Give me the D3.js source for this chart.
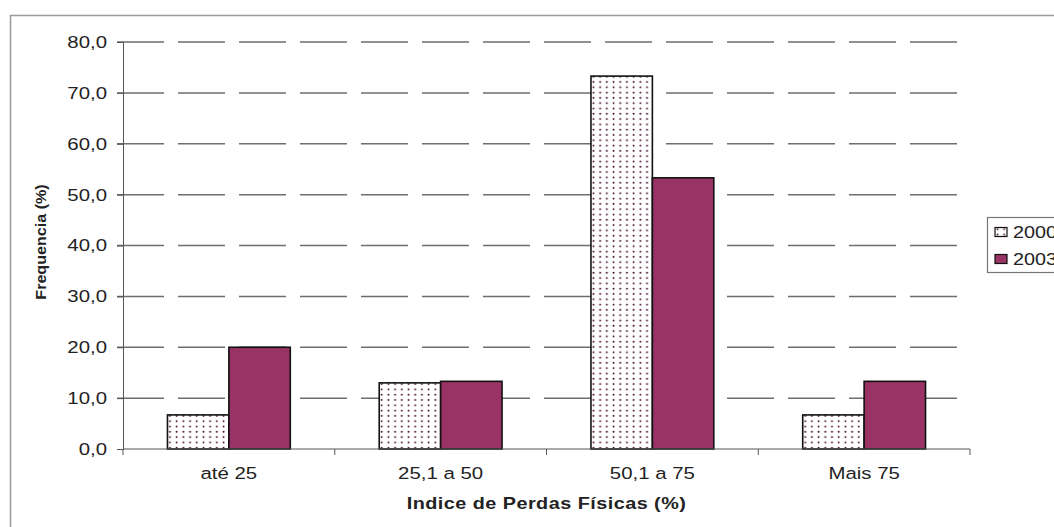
<!DOCTYPE html>
<html>
<head>
<meta charset="utf-8">
<script src="https://cdn.jsdelivr.net/npm/d3@7"></script>
<style>
  body { margin: 0; background: #fff; }
  text { font-family: Arial, "Liberation Sans", sans-serif; fill: #222; }
</style>
</head>
<body>
<div id="chart"></div>
<script>
var categories = ["até 25", "25,1 a 50", "50,1 a 75", "Mais 75"];
var seriesNames = ["2000", "2003"];
var values2000 = [6.7, 13.0, 73.3, 6.7];
var values2003 = [20.0, 13.3, 53.3, 13.3];
var yTicks = [0, 10, 20, 30, 40, 50, 60, 70, 80];

var width = 1054,
    height = 527;

var plot = {left: 123, right: 970, top: 42, bottom: 449};
var stretch = 1.2; // the original picture is a bit wider than tall

var svg = d3.select("#chart").append("svg")
    .attr("width", width)
    .attr("height", height);

// dotted pattern for the 2000 series
var defs = svg.append("defs");
var pat = defs.append("pattern")
    .attr("id", "dots")
    .attr("patternUnits", "userSpaceOnUse")
    .attr("width", 6.7)
    .attr("height", 5.3);
pat.append("rect").attr("width", 6.7).attr("height", 5.3).attr("fill", "#fff");
pat.append("circle").attr("cx", 2.5).attr("cy", 2.5).attr("r", 1).attr("fill", "#4a1030");

// outer chart border
svg.append("rect")
    .attr("x", 10.5).attr("y", 15.5)
    .attr("width", 1100).attr("height", 600)
    .attr("fill", "none")
    .attr("stroke", "#9a9a9a")
    .attr("stroke-width", 1.5);

var x0 = d3.scaleBand()
    .domain(categories)
    .range([plot.left, plot.right])
    .paddingInner(0.42)
    .paddingOuter(0.21);

var x1 = d3.scaleBand()
    .domain(seriesNames)
    .range([0, x0.bandwidth()]);

var y = d3.scaleLinear()
    .domain([0, 80])
    .range([plot.bottom, plot.top]);

// gridlines
svg.append("g")
    .selectAll("line")
    .data(yTicks.filter(function (d) { return d > 0; }))
    .enter().append("line")
    .attr("x1", plot.left - 6)
    .attr("x2", plot.right)
    .attr("y1", function (d) { return y(d); })
    .attr("y2", function (d) { return y(d); })
    .attr("stroke", "#6e6e6e")
    .attr("stroke-width", 1.5)
    .attr("stroke-dasharray", "47,14");

// y axis
var yAxis = d3.axisLeft(y)
    .tickValues(yTicks)
    .tickSize(6)
    .tickFormat(function (d) { return d3.format(".1f")(d).replace(".", ","); });

var gy = svg.append("g")
    .attr("transform", "translate(" + plot.left + ",0)")
    .call(yAxis);
gy.select(".domain").attr("stroke", "#555");
gy.selectAll(".tick line").attr("stroke", "#555");
gy.selectAll(".tick text")
    .attr("x", -16 / stretch)
    .attr("transform", "scale(" + stretch + ",1)")
    .style("font-size", "17px")
    .style("font-family", "Arial, 'Liberation Sans', sans-serif")
    .attr("fill", "#222");

// bars
var rows = categories.map(function (c, i) {
    return {cat: c, vals: [values2000[i], values2003[i]]};
});

var groups = svg.append("g")
    .selectAll("g")
    .data(rows)
    .enter().append("g")
    .attr("transform", function (d) { return "translate(" + x0(d.cat) + ",0)"; });

groups.selectAll("rect")
    .data(function (d) {
        return d.vals.map(function (v, j) { return {name: seriesNames[j], v: v}; });
    })
    .enter().append("rect")
    .attr("x", function (d) { return x1(d.name); })
    .attr("y", function (d) { return y(d.v); })
    .attr("width", x1.bandwidth())
    .attr("height", function (d) { return y(0) - y(d.v); })
    .attr("fill", function (d) { return d.name === "2000" ? "url(#dots)" : "#993366"; })
    .attr("stroke", "#111")
    .attr("stroke-width", 1.6);

// x axis with ticks on category boundaries
var bounds = d3.scaleLinear().domain([0, categories.length]).range([plot.left, plot.right]);
var gx = svg.append("g");
gx.append("line")
    .attr("x1", plot.left).attr("x2", plot.right)
    .attr("y1", plot.bottom).attr("y2", plot.bottom)
    .attr("stroke", "#555");
gx.selectAll(".btick")
    .data(d3.range(categories.length + 1))
    .enter().append("line")
    .attr("x1", function (d) { return bounds(d); })
    .attr("x2", function (d) { return bounds(d); })
    .attr("y1", plot.bottom)
    .attr("y2", plot.bottom + 6)
    .attr("stroke", "#555");
gx.selectAll(".clab")
    .data(categories)
    .enter().append("text")
    .attr("transform", function (d) {
        return "translate(" + (x0(d) + x0.bandwidth() / 2) + ",479) scale(" + stretch + ",1)";
    })
    .attr("text-anchor", "middle")
    .style("font-size", "17px")
    .text(function (d) { return d; });

// axis titles
svg.append("text")
    .attr("transform", "translate(" + ((plot.left + plot.right) / 2) + ",509) scale(" + stretch + ",1)")
    .attr("text-anchor", "middle")
    .style("font-size", "16.5px")
    .style("font-weight", "bold")
    .style("letter-spacing", "0.4px")
    .text("Indice de Perdas Físicas (%)");

svg.append("text")
    .attr("transform", "translate(46,242) rotate(-90) scale(1.15,1.05)")
    .attr("text-anchor", "middle")
    .style("font-size", "14px")
    .style("font-weight", "bold")
    .text("Frequencia (%)");

// legend
var legend = svg.append("g");
legend.append("rect")
    .attr("x", 987.5).attr("y", 217.5)
    .attr("width", 100).attr("height", 55)
    .attr("fill", "#fff")
    .attr("stroke", "#777")
    .attr("stroke-width", 1.2);

var items = legend.selectAll(".item")
    .data(seriesNames)
    .enter().append("g")
    .attr("transform", function (d, i) { return "translate(995," + (232 + i * 27) + ")"; });
items.append("rect")
    .attr("x", 0).attr("y", -4.5)
    .attr("width", 12).attr("height", 9)
    .attr("fill", function (d) { return d === "2000" ? "url(#dots)" : "#993366"; })
    .attr("stroke", "#111")
    .attr("stroke-width", 1.2);
items.append("text")
    .attr("transform", "translate(18,6) scale(" + stretch + ",1)")
    .style("font-size", "16.5px")
    .text(function (d) { return d; });
</script>
</body>
</html>
